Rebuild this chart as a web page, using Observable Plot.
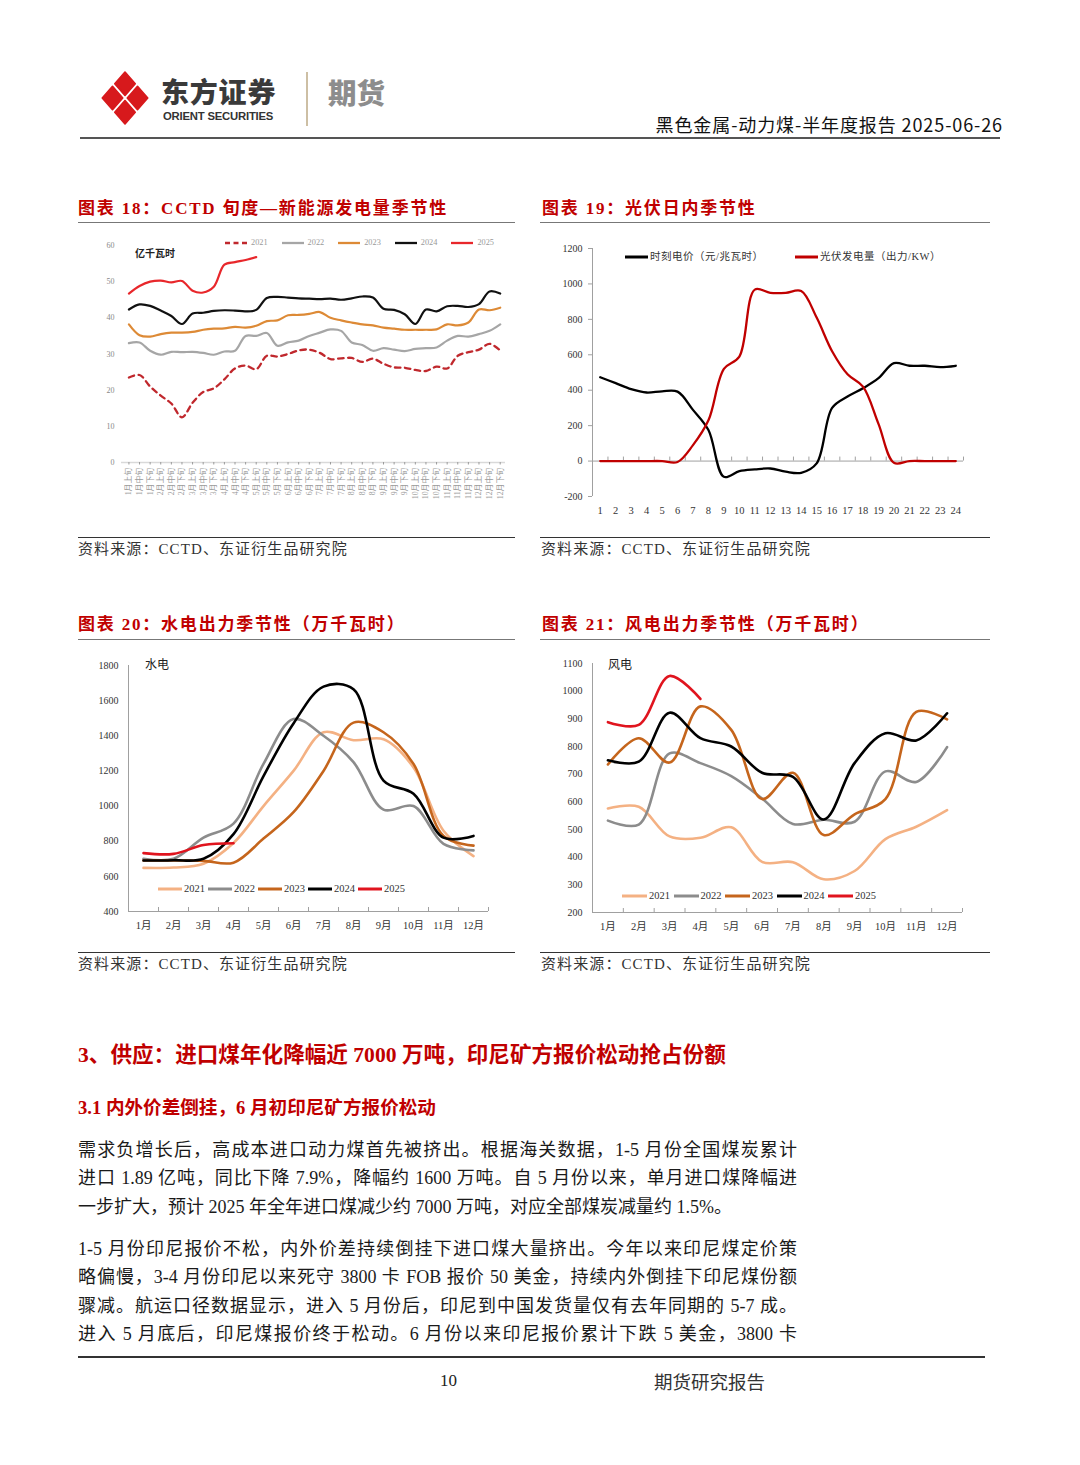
<!DOCTYPE html>
<html><head><meta charset="utf-8">
<script src="https://cdn.jsdelivr.net/npm/d3@7"></script>
<script src="https://cdn.jsdelivr.net/npm/@observablehq/plot@0.6"></script>
<style>
body{margin:0;background:#fff;}
#page{position:relative;width:1080px;height:1465px;overflow:hidden;background:#fff;font-family:"Liberation Serif","Noto Sans CJK SC",serif;color:#1a1a1a;}
.abs{position:absolute;}
.ctitle{position:absolute;font-size:17px;font-weight:bold;color:#c00000;letter-spacing:1.8px;white-space:nowrap;line-height:20px;}
.src{position:absolute;font-size:15px;color:#333;letter-spacing:1.1px;white-space:nowrap;line-height:18px;}
.hr{position:absolute;height:0;}
.body{position:absolute;left:78px;width:719px;font-size:18px;line-height:28.4px;color:#1a1a1a;}
.body div{text-align:justify;text-align-last:justify;white-space:nowrap;}
.body div.last{text-align-last:left;}
.leg{position:absolute;white-space:nowrap;}
</style></head>
<body><div id="page">
<!-- header -->
<svg class="abs" style="left:98px;top:68px" width="56" height="62">
  <g fill="#d7191c" stroke="#d7191c" stroke-width="1.6" stroke-linejoin="round">
    <polygon points="27,4.05 37.25,15.75 27,27.45 16.75,15.75"/>
    <polygon points="39.5,18.3 49.75,30 39.5,41.7 29.25,30"/>
    <polygon points="27,32.55 37.25,44.25 27,55.95 16.75,44.25"/>
    <polygon points="14.5,18.3 24.75,30 14.5,41.7 4.25,30"/>
  </g>
</svg>
<div class="abs" style="left:161px;top:74px;font-family:'Noto Sans CJK SC';font-weight:900;font-size:28px;color:#3a3a3a;line-height:34px;letter-spacing:0.8px">东方证券</div>
<div class="abs" style="left:163px;top:110px;font-family:'Liberation Sans';font-weight:bold;font-size:11.3px;color:#333;letter-spacing:-0.2px;line-height:13px">ORIENT SECURITIES</div>
<div class="abs" style="left:306px;top:72px;width:1.5px;height:54px;background:#cdbfa4"></div>
<div class="abs" style="left:328px;top:73px;font-family:'Noto Sans CJK SC';font-weight:900;font-size:28.5px;color:#8d8d8d;line-height:38px">期货</div>
<div class="abs" style="right:77px;top:112px;font-family:'Noto Sans CJK SC';font-size:18px;color:#111;line-height:24px;white-space:nowrap;letter-spacing:0.9px">黑色金属-动力煤-半年度报告 2025-06-26</div>
<div class="hr" style="left:80px;top:137px;width:920px;border-top:2px solid #555"></div>

<!-- chart titles -->
<div class="ctitle" style="left:78px;top:199px">图表 18：CCTD 旬度—新能源发电量季节性</div>
<div class="hr" style="left:78px;top:222px;width:437px;border-top:1.5px solid #777"></div>
<div class="ctitle" style="left:542px;top:199px">图表 19：光伏日内季节性</div>
<div class="hr" style="left:540px;top:222px;width:450px;border-top:1.5px solid #777"></div>
<div class="ctitle" style="left:78px;top:615px">图表 20：水电出力季节性（万千瓦时）</div>
<div class="hr" style="left:78px;top:639px;width:437px;border-top:1.5px solid #777"></div>
<div class="ctitle" style="left:542px;top:615px">图表 21：风电出力季节性（万千瓦时）</div>
<div class="hr" style="left:540px;top:639px;width:450px;border-top:1.5px solid #777"></div>

<div id="c18" class="abs" style="left:78px;top:232px"></div>
<div id="c19" class="abs" style="left:540px;top:232px"></div>
<div id="c20" class="abs" style="left:78px;top:650px"></div>
<div id="c21" class="abs" style="left:540px;top:650px"></div>

<div class="abs" style="left:135px;top:245px;font-size:10px;font-weight:bold;color:#222;font-family:'Noto Sans CJK SC'">亿千瓦时</div>
<div class="abs" style="left:145px;top:655px;font-size:12px;color:#222">水电</div>
<div class="abs" style="left:608px;top:655px;font-size:12px;color:#222">风电</div>

<!-- sources -->
<div class="hr" style="left:78px;top:537px;width:437px;border-top:1px solid #333"></div>
<div class="src" style="left:78px;top:540px">资料来源：CCTD、东证衍生品研究院</div>
<div class="hr" style="left:540px;top:537px;width:450px;border-top:1px solid #333"></div>
<div class="src" style="left:541px;top:540px">资料来源：CCTD、东证衍生品研究院</div>
<div class="hr" style="left:78px;top:952px;width:437px;border-top:1px solid #333"></div>
<div class="src" style="left:78px;top:955px">资料来源：CCTD、东证衍生品研究院</div>
<div class="hr" style="left:540px;top:952px;width:450px;border-top:1px solid #333"></div>
<div class="src" style="left:541px;top:955px">资料来源：CCTD、东证衍生品研究院</div>

<!-- text -->
<div class="abs" style="left:78px;top:1041px;font-size:21.6px;font-weight:bold;color:#c00000;white-space:nowrap;line-height:28px">3、供应：进口煤年化降幅近 7000 万吨，印尼矿方报价松动抢占份额</div>
<div class="abs" style="left:78px;top:1096px;font-size:18.6px;font-weight:bold;color:#c00000;white-space:nowrap;line-height:24px">3.1 内外价差倒挂，6 月初印尼矿方报价松动</div>
<div class="body" style="top:1136px">
<div>需求负增长后，高成本进口动力煤首先被挤出。根据海关数据，1-5 月份全国煤炭累计</div>
<div>进口 1.89 亿吨，同比下降 7.9%，降幅约 1600 万吨。自 5 月份以来，单月进口煤降幅进</div>
<div class="last">一步扩大，预计 2025 年全年进口煤减少约 7000 万吨，对应全部煤炭减量约 1.5%。</div>
</div>
<div class="body" style="top:1235px">
<div>1-5 月份印尼报价不松，内外价差持续倒挂下进口煤大量挤出。今年以来印尼煤定价策</div>
<div>略偏慢，3-4 月份印尼以来死守 3800 卡 FOB 报价 50 美金，持续内外倒挂下印尼煤份额</div>
<div>骤减。航运口径数据显示，进入 5 月份后，印尼到中国发货量仅有去年同期的 5-7 成。</div>
<div>进入 5 月底后，印尼煤报价终于松动。6 月份以来印尼报价累计下跌 5 美金，3800 卡</div>
</div>
<div class="hr" style="left:78px;top:1356px;width:907px;border-top:2px solid #333"></div>
<div class="abs" style="left:440px;top:1370px;font-size:17px;color:#222;line-height:22px">10</div>
<div class="abs" style="left:654px;top:1369px;font-size:18.5px;color:#333;font-family:'Noto Sans CJK SC';line-height:24px">期货研究报告</div>
</div>

<script>
// ---------------- data ----------------
const years = ["2021", "2022", "2023", "2024", "2025"];

// Chart 18: CCTD dekad new-energy generation (亿千瓦时)
const dekadMonths = ["1月","2月","3月","4月","5月","6月","7月","8月","9月","10月","11月","12月"];
const dekadParts = ["上旬","中旬","下旬"];
const cctd2021 = [23.5,24.2,21.0,18.5,16.3,12.5,16.5,19.5,20.5,23.0,26.0,26.8,25.8,29.5,29.3,30.0,31.0,31.2,30.3,28.6,28.8,28.9,27.8,28.7,27.3,26.3,26.2,25.6,25.3,26.5,26.0,29.5,30.5,31.2,32.8,31.0];
const cctd2022 = [33.0,33.2,30.9,29.8,30.6,30.5,30.6,30.3,29.8,30.7,30.9,35.0,35.0,35.8,32.3,33.2,33.7,35.0,35.9,36.8,36.4,33.2,32.5,30.9,31.6,31.2,30.8,31.4,31.6,31.8,33.7,35.0,34.8,35.5,36.4,38.2];
const cctd2023 = [38.2,35.2,34.8,35.5,35.9,35.9,36.1,36.7,37.0,37.1,37.5,37.3,37.8,39.1,39.3,40.7,40.8,41.1,41.6,40.0,39.3,38.7,38.2,37.9,37.3,37.0,36.7,36.7,36.7,36.8,38.2,37.9,38.7,42.3,42.1,42.8];
const cctd2024 = [42.3,43.7,43.3,42.0,40.5,38.3,41.2,41.4,41.9,42.1,42.0,41.8,42.2,45.5,45.8,45.6,45.4,45.3,45.2,45.3,45.0,45.4,45.9,45.6,42.5,42.2,41.0,38.3,42.3,41.8,43.2,43.3,43.0,43.8,47.3,46.7];
const cctd2025 = [46.7,48.8,50.0,50.3,49.8,50.2,47.5,47.0,48.6,54.7,55.4,56.0,56.8];
const cctdTicks = [0,10,20,30,40,50,60];

// Chart 19: PV intraday
const hours = [1,2,3,4,5,6,7,8,9,10,11,12,13,14,15,16,17,18,19,20,21,22,23,24];
const pvPrice = [473,440,406,387,394,392,289,175,-89,-57,-47,-42,-60,-66,-13,300,364,411,468,553,538,538,530,538];
const pvOutput = [0,0,0,0,0,-5,90,230,520,590,968,950,950,960,810,620,490,420,210,-10,0,0,0,0];
const pvSeries = ["时刻电价（元/兆瓦时）", "光伏发电量（出力/KW）"];
const pvTicks = [-200,0,200,400,600,800,1000,1200];

// Chart 20: hydro (万千瓦时)
const months = ["1月","2月","3月","4月","5月","6月","7月","8月","9月","10月","11月","12月"];
const hydro2021 = [648,650,672,790,1000,1200,1420,1375,1380,1220,860,715];
const hydro2022 = [700,700,820,900,1240,1495,1400,1250,980,1000,785,748];
const hydro2023 = [690,690,688,678,815,965,1200,1475,1420,1240,830,775];
const hydro2024 = [690,692,700,840,1170,1470,1680,1665,1145,1070,820,830];
const hydro2025 = [732,728,778,788];
const hydroTicks = [400,600,800,1000,1200,1400,1600,1800];

// Chart 21: wind (万千瓦时)
const wind2021 = [576,582,475,470,508,383,382,320,350,465,510,570];
const wind2022 = [532,518,775,740,693,612,520,535,528,710,672,798];
const wind2023 = [735,830,742,945,860,610,705,480,555,610,925,898];
const wind2024 = [750,745,922,830,800,705,690,536,740,848,822,920];
const wind2025 = [888,878,1055,972];
const windTicks = [200,300,400,500,600,700,800,900,1000,1100];

// ---------------- helpers ----------------
const FONT = '"Liberation Serif","Noto Sans CJK SC",serif';
const dekadLabels = dekadMonths.flatMap(m => dekadParts.map(p => m + p));
const plain = d => String(d);
function rows(seriesList, names, xs) {
  const out = [];
  seriesList.forEach((s, k) => s.forEach((v, i) => out.push({series: names[k], x: xs[i], v})));
  return out;
}
function legend(parent, items, o) {
  items.forEach((it, k) => {
    const d = document.createElement("div");
    d.className = "leg";
    d.style.left = (o.left + k * o.step) + "px";
    d.style.top = (o.cy - 8) + "px";
    d.style.height = "16px";
    d.innerHTML = `<svg width="${o.sw}" height="16" style="position:absolute;left:0;top:0"><line x1="0" x2="${o.sw}" y1="8" y2="8" stroke="${it.color}" stroke-width="${o.lw}" ${it.dash ? `stroke-dasharray="${it.dash}"` : ""}/></svg>` +
      `<span style="position:absolute;left:${o.sw + o.gap}px;top:0;line-height:16px;font-size:${o.fs}px;color:${o.tc};letter-spacing:${o.ls || 0}px;font-family:${FONT.replace(/"/g, "'")}">${it.label}</span>`;
    parent.appendChild(d);
  });
}
const page = document.getElementById("page");

// ---------------- chart 18 ----------------
{
  const colors = ["#c0282d", "#a6a6a6", "#dd8a36", "#111111", "#e8272b"];
  const idx = d3.range(36);
  const data = rows([cctd2021, cctd2022, cctd2023, cctd2024, cctd2025], years, idx);
  const p = Plot.plot({
    width: 440, height: 290, marginLeft: 43, marginRight: 13, marginTop: 13, marginBottom: 60,
    style: {fontFamily: FONT, background: "transparent", overflow: "visible"},
    x: {type: "linear", domain: [-0.7, 35.5]},
    y: {domain: [0, 60]},
    color: {domain: years, range: colors},
    marks: [
      Plot.ruleY([0], {stroke: "#d9d9d9", strokeWidth: 1.3}),
      Plot.axisY({ticks: cctdTicks, tickFormat: plain, label: null, tickSize: 0, tickPadding: 7, fontSize: 8, color: "#888"}),
      Plot.axisX({ticks: idx, tickFormat: i => dekadLabels[i], label: null, tickRotate: -90, tickSize: 2.5, tickPadding: 3, fontSize: 7.8, color: "#9a9a9a"}),
      Plot.line(data.filter(d => d.series !== "2021"), {x: "x", y: "v", z: "series", stroke: "series", strokeWidth: 2.2, curve: "catmull-rom"}),
      Plot.line(data.filter(d => d.series === "2021"), {x: "x", y: "v", stroke: "series", strokeWidth: 2.3, strokeDasharray: "5.5,4.5", curve: "catmull-rom"})
    ]
  });
  document.getElementById("c18").appendChild(p);
  legend(page, years.map((y, k) => ({label: y, color: colors[k], dash: k === 0 ? "5,3.5" : null})),
    {left: 225, step: 56.6, cy: 243, sw: 22, gap: 4, lw: 2.3, fs: 8.3, tc: "#999"});
}

// ---------------- chart 19 ----------------
{
  const colors = ["#000000", "#c00000"];
  const data = rows([pvPrice, pvOutput], pvSeries, hours);
  const p = Plot.plot({
    width: 450, height: 290, marginLeft: 52, marginRight: 27, marginTop: 16, marginBottom: 26,
    style: {fontFamily: FONT, background: "transparent", overflow: "visible"},
    x: {domain: [0.5, 24.5]},
    y: {domain: [-200, 1200]},
    color: {domain: pvSeries, range: colors},
    marks: [
      Plot.ruleX([0.5], {stroke: "#a0a0a0", strokeWidth: 1}),
      Plot.ruleY([0], {stroke: "#a0a0a0", strokeWidth: 1}),
      Plot.ruleX(d3.range(1.5, 25, 1), {x: d => d, y1: 0, y2: 0, insetTop: -4, stroke: "#a0a0a0"}),
      Plot.axisY({ticks: pvTicks, tickFormat: plain, label: null, tickSize: 4, tickPadding: 6, fontSize: 10, color: "#333", stroke: "#a0a0a0"}),
      Plot.axisX({ticks: hours, tickFormat: plain, label: null, tickSize: 0, tickPadding: 10, fontSize: 10.5, color: "#333"}),
      Plot.line(data, {x: "x", y: "v", z: "series", stroke: "series", strokeWidth: 2.3, curve: "catmull-rom"})
    ]
  });
  document.getElementById("c19").appendChild(p);
  legend(page, pvSeries.map((s, k) => ({label: s, color: colors[k]})),
    {left: 625, step: 170, cy: 257, sw: 23, gap: 2, lw: 3, fs: 10.5, ls: 0.5, tc: "#333"});
}

// ---------------- charts 20 & 21 ----------------
const seasonColors = ["#f4b183", "#8c8c8c", "#c5651c", "#000000", "#e0141e"];
function seasonal(el, series, ticks, yDomain, geom) {
  const data = rows(series, years, d3.range(1, 13));
  const p = Plot.plot({
    width: geom.width, height: 300, marginLeft: geom.ml, marginRight: geom.mr, marginTop: geom.mt, marginBottom: geom.mb,
    style: {fontFamily: FONT, background: "transparent", overflow: "visible"},
    x: {domain: [0.5, 12.5]},
    y: {domain: yDomain},
    color: {domain: years, range: seasonColors},
    marks: [
      Plot.ruleX([0.5], {stroke: "#a0a0a0"}),
      Plot.ruleY([yDomain[0]], {stroke: "#a0a0a0"}),
      Plot.ruleX(d3.range(1.5, 13, 1), {x: d => d, y1: yDomain[0], y2: yDomain[0], insetTop: -4, stroke: "#a0a0a0"}),
      Plot.axisY({ticks: ticks, tickFormat: plain, label: null, tickSize: 0, tickPadding: 10, fontSize: 10, color: "#333"}),
      Plot.axisX({ticks: d3.range(1, 13), tickFormat: i => months[i - 1], label: null, tickSize: 0, tickPadding: 10, fontSize: 10.5, color: "#333"}),
      Plot.line(data, {x: "x", y: "v", z: "series", stroke: "series", strokeWidth: 2.6, curve: "catmull-rom"})
    ]
  });
  document.getElementById(el).appendChild(p);
}
seasonal("c20", [hydro2021, hydro2022, hydro2023, hydro2024, hydro2025], hydroTicks, [400, 1800],
  {width: 440, ml: 50, mr: 30, mt: 15, mb: 39});
legend(page, years.map((y, k) => ({label: y, color: seasonColors[k]})),
  {left: 158, step: 50, cy: 889, sw: 24, gap: 2, lw: 3, fs: 10.5, tc: "#333"});
seasonal("c21", [wind2021, wind2022, wind2023, wind2024, wind2025], windTicks, [200, 1100],
  {width: 450, ml: 52, mr: 28, mt: 13, mb: 38});
legend(page, years.map((y, k) => ({label: y, color: seasonColors[k]})),
  {left: 622, step: 51.5, cy: 896, sw: 25, gap: 2, lw: 3, fs: 10.5, tc: "#333"});
</script>
</body></html>
